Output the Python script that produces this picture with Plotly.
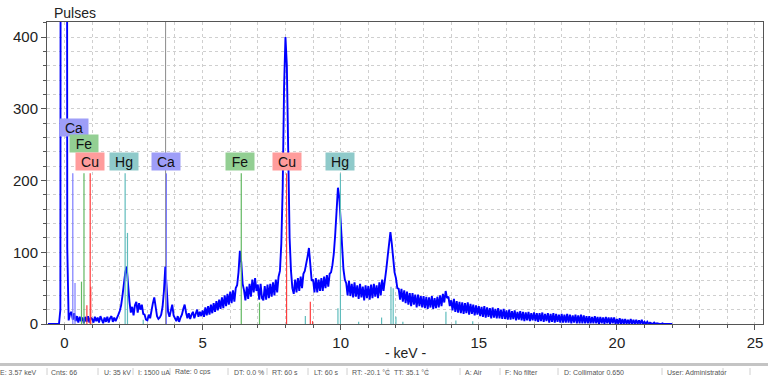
import plotly.graph_objects as go

# ---------------- data ----------------
energy_start = -0.60   # keV of first channel
energy_step = 0.05     # keV per channel

counts = [
    # -0.60 .. -0.05
    0, 0, 0, 0, 0, 0, 0, 0, 0, 20, 3000, 3000,
    # 0.00 .. 0.95
    3000, 3000, 106, 5, 14, 17, 6, 15, 4, 11, 2, 10, 4, 9, 1, 10, 3, 11, 2, 9,
    # 1.00 .. 1.95
    7, 2, 10, 4, 9, 2, 11, 5, 1, 9, 3, 10, 2, 8, 11, 3, 9, 4, 10, 13,
    # 2.00 .. 2.95
    18, 26, 40, 58, 72, 80, 54, 32, 16, 24, 12, 26, 31, 16, 29, 20, 27, 14, 13, 6,
    # 3.00 .. 3.95
    5, 13, 8, 20, 29, 37, 22, 11, 7, 9, 13, 24, 46, 80, 50, 17, 10, 20, 27, 12,
    # 4.00 .. 4.95
    7, 4, 11, 3, 9, 13, 21, 27, 16, 8, 15, 7, 13, 17, 8, 15, 20, 10, 17, 11,
    # 5.00 .. 5.95
    19, 10, 23, 12, 25, 13, 27, 15, 29, 17, 32, 19, 34, 21, 37, 22, 40, 25, 42, 27,
    # 6.00 .. 6.95
    45, 29, 47, 31, 50, 54, 72, 102, 86, 56, 47, 33, 52, 35, 56, 38, 62, 44, 64, 46,
    # 7.00 .. 7.95
    55, 34, 56, 36, 33, 53, 34, 55, 36, 56, 38, 58, 40, 62, 44, 66, 74, 112, 190, 330,
    # 8.00 .. 8.95
    400, 360, 230, 120, 74, 50, 42, 62, 44, 64, 46, 66, 50, 70, 74, 82, 94, 106, 84, 60,
    # 9.00 .. 9.95
    62, 44, 64, 44, 62, 46, 64, 46, 66, 50, 68, 52, 70, 72, 82, 98, 124, 160, 190, 176,
    # 10.00 .. 10.95
    140, 100, 76, 62, 57, 40, 60, 39, 56, 37, 58, 38, 54, 35, 56, 37, 52, 33, 54, 36,
    # 11.00 .. 11.95
    53, 34, 55, 36, 56, 38, 54, 36, 58, 40, 62, 46, 66, 76, 94, 110, 128, 112, 90, 72,
    # 12.00 .. 12.95
    64, 50, 49, 34, 49, 31, 47, 29, 45, 27, 43, 25, 43, 27, 41, 23, 41, 25, 39, 23,
    # 13.00 .. 13.95
    39, 22, 38, 21, 37, 23, 39, 21, 36, 22, 38, 23, 40, 25, 42, 30, 46, 36, 38, 25,
    # 14.00 .. 14.95
    33, 19, 35, 17, 32, 16, 31, 15, 30, 14, 29, 15, 30, 13, 28, 14, 27, 12, 26, 13,
    # 15.00 .. 15.95
    25, 11, 24, 10, 25, 9, 23, 10, 22, 8, 23, 9, 21, 8, 22, 8, 20, 7, 21, 7,
    # 16.00 .. 16.95
    19, 6, 20, 6, 18, 7, 19, 5, 17, 6, 18, 5, 17, 4, 16, 5, 17, 4, 15, 5,
    # 17.00 .. 17.95
    16, 4, 15, 3, 15, 4, 16, 3, 14, 4, 15, 2, 14, 3, 15, 2, 14, 3, 13, 2,
    # 18.00 .. 18.95
    14, 2, 13, 2, 14, 2, 13, 1, 12, 2, 13, 1, 12, 1, 13, 1, 12, 1, 11, 1,
    # 19.00 .. 19.95
    11, 1, 10, 1, 11, 1, 10, 0, 10, 1, 9, 0, 10, 1, 9, 0, 9, 1, 9, 0,
    # 20.00 .. 20.95
    7, 0, 8, 0, 7, 0, 7, 0, 6, 0, 7, 0, 6, 0, 6, 0, 5, 0, 6, 0,
    # 21.00 .. 21.95
    3, 0, 3, 0, 2, 1, 0, 2, 0, 1, 0, 0, 0, 1, 0, 0, 0, 0, 0, 0,
    # 22.00
    0,
]
energy = [round(energy_start + i * energy_step, 3) for i in range(len(counts))]

# element marker lines (keV, height in pulses)
line_elements = ["Ca", "Ca", "Ca",
                 "Fe", "Fe", "Fe", "Fe",
                 "Cu", "Cu", "Cu", "Cu", "Cu", "Cu",
                 "Hg", "Hg", "Hg", "Hg", "Hg", "Hg", "Hg", "Hg", "Hg", "Hg", "Hg", "Hg", "Hg", "Hg", "Hg"]
line_energies = [0.30, 0.38, 3.69,
                 0.615, 0.705, 6.40, 7.06,
                 0.81, 0.93, 0.95, 8.04, 8.90, 8.98,
                 2.195, 2.28, 2.85, 8.72, 9.90, 9.99, 10.65, 11.48, 11.82, 11.90, 12.00, 12.25,
                 13.81, 14.17, 14.78]
line_heights = [210, 57, 210,
                59, 210, 210, 30,
                26, 210, 52, 210, 31, 4,
                210, 127, 6, 11, 22, 210, 3, 9, 52, 50, 10, 3, 17, 5, 4]

element_line_colors = {"Ca": "#7c7cff", "Fe": "#62b862", "Cu": "#ff3c3c", "Hg": "#5fbcbc"}
element_box_colors = {"Ca": "#9e9ef8", "Fe": "#93cf93", "Cu": "#ff9c9c", "Hg": "#8fcaca"}

# element labels
label_texts = ["Ca", "Fe", "Cu", "Hg", "Ca", "Fe", "Cu", "Hg"]
label_energies = [0.33, 0.69, 0.92, 2.17, 3.67, 6.37, 8.04, 9.97]
label_counts = [274.6, 251.6, 227.2, 227.2, 227.2, 227.2, 227.2, 227.2]

cursor_energy = 3.66

status_texts = ["E: 3.57 keV", "Cnts: 66", "U: 35 kV", "I: 1500 uA", "Rate: 0 cps",
                "DT: 0.0 %", "RT: 60 s", "LT: 60 s", "RT: -20.1 \u00b0C", "TT: 35.1 \u00b0C",
                "A: Air", "F: No filter", "D: Collimator 0.650", "User: Administrator"]
status_x_px = [-2, 49, 102, 136, 173, 232, 270, 312, 350, 392, 463, 503, 562, 665]
status_sep_px = [47, 98, 133, 170, 228, 267, 308, 347, 388, 427, 460, 500, 558, 662, 723, 750]

# ---------------- figure ----------------
W, H = 768, 375
ML, MR, MT, MB = 47, 5, 22, 51
PW, PH = W - ML - MR, H - MT - MB

def px_to_paper_x(px):
    return (px - ML) / PW

def px_to_paper_y(py):
    return (H - MB - py) / PH

fig = go.Figure()

# cursor line
fig.add_shape(type="line", xref="x", yref="paper", x0=cursor_energy, x1=cursor_energy,
              y0=0, y1=1, line=dict(color="#8a8a8a", width=1), layer="below")

# spectrum
fig.add_trace(go.Scatter(x=energy, y=counts, mode="lines",
                         line=dict(color="#0000ff", width=1.9), hoverinfo="skip",
                         showlegend=False))

# element lines
for el in ["Ca", "Fe", "Cu", "Hg"]:
    xs, ys = [], []
    for e, h, name in zip(line_energies, line_heights, line_elements):
        if name == el:
            xs += [e, e, None]
            ys += [0, h, None]
    fig.add_trace(go.Scatter(x=xs, y=ys, mode="lines",
                             line=dict(color=element_line_colors[el], width=1.2),
                             hoverinfo="skip", showlegend=False))

# element labels
for t, e, c in zip(label_texts, label_energies, label_counts):
    fig.add_annotation(x=e, y=c, xref="x", yref="y", text=t, showarrow=False,
                       font=dict(family="Liberation Sans, Arial", size=14, color="#111"),
                       bgcolor=element_box_colors[t], width=28, height=17, borderpad=0,
                       xanchor="center", yanchor="middle")

# axis titles
fig.add_annotation(x=px_to_paper_x(52), y=px_to_paper_y(13), xref="paper", yref="paper",
                   text="Pulses", showarrow=False, xanchor="left", yanchor="middle",
                   font=dict(family="Liberation Sans, Arial", size=14, color="#222"))
fig.add_annotation(x=px_to_paper_x(405.5), y=px_to_paper_y(353), xref="paper", yref="paper",
                   text="- keV -", showarrow=False, xanchor="center", yanchor="middle",
                   font=dict(family="Liberation Sans, Arial", size=14, color="#222"))

# status bar
fig.add_shape(type="line", xref="paper", yref="paper",
              x0=px_to_paper_x(0), x1=px_to_paper_x(W), y0=px_to_paper_y(364.5), y1=px_to_paper_y(364.5),
              line=dict(color="#c4c4c4", width=3))
for sx in status_sep_px:
    fig.add_shape(type="line", xref="paper", yref="paper",
                  x0=px_to_paper_x(sx), x1=px_to_paper_x(sx), y0=px_to_paper_y(368), y1=px_to_paper_y(375),
                  line=dict(color="#d0d0d0", width=1))
for t, sx in zip(status_texts, status_x_px):
    fig.add_annotation(x=px_to_paper_x(sx), y=px_to_paper_y(372.5), xref="paper", yref="paper",
                       text=t, showarrow=False, xanchor="left", yanchor="middle",
                       font=dict(family="Liberation Sans, Arial", size=7, color="#555"))

grid_col = "#cfcfcf"
fig.update_xaxes(range=[-0.634, 25.29], tickmode="linear", tick0=0, dtick=5,
                 ticks="outside", ticklen=5, tickcolor="#555", tickwidth=1,
                 showgrid=True, gridcolor=grid_col, griddash="dot", gridwidth=1,
                 minor=dict(dtick=1, tick0=0, ticks="outside", ticklen=3, tickcolor="#555",
                            showgrid=True, gridcolor=grid_col, griddash="dot", gridwidth=1),
                 showline=True, linecolor="#555", linewidth=1, mirror=True, zeroline=False,
                 tickfont=dict(family="Liberation Sans, Arial", size=15, color="#222"))
fig.update_yaxes(range=[0, 421], tickmode="linear", tick0=0, dtick=100,
                 ticks="outside", ticklen=5, tickcolor="#555", tickwidth=1,
                 showgrid=True, gridcolor=grid_col, griddash="dot", gridwidth=1,
                 minor=dict(dtick=20, tick0=0, ticks="outside", ticklen=3, tickcolor="#555",
                            showgrid=True, gridcolor=grid_col, griddash="dot", gridwidth=1),
                 showline=True, linecolor="#555", linewidth=1, mirror=True, zeroline=False,
                 tickfont=dict(family="Liberation Sans, Arial", size=15, color="#222"))

fig.update_layout(width=W, height=H, margin=dict(l=ML, r=MR, t=MT, b=MB, pad=0),
                  paper_bgcolor="white", plot_bgcolor="white", showlegend=False)

fig.write_html("out.html", config={"displayModeBar": False},
               post_script="document.body.style.margin='0';document.body.style.overflow='hidden';")
